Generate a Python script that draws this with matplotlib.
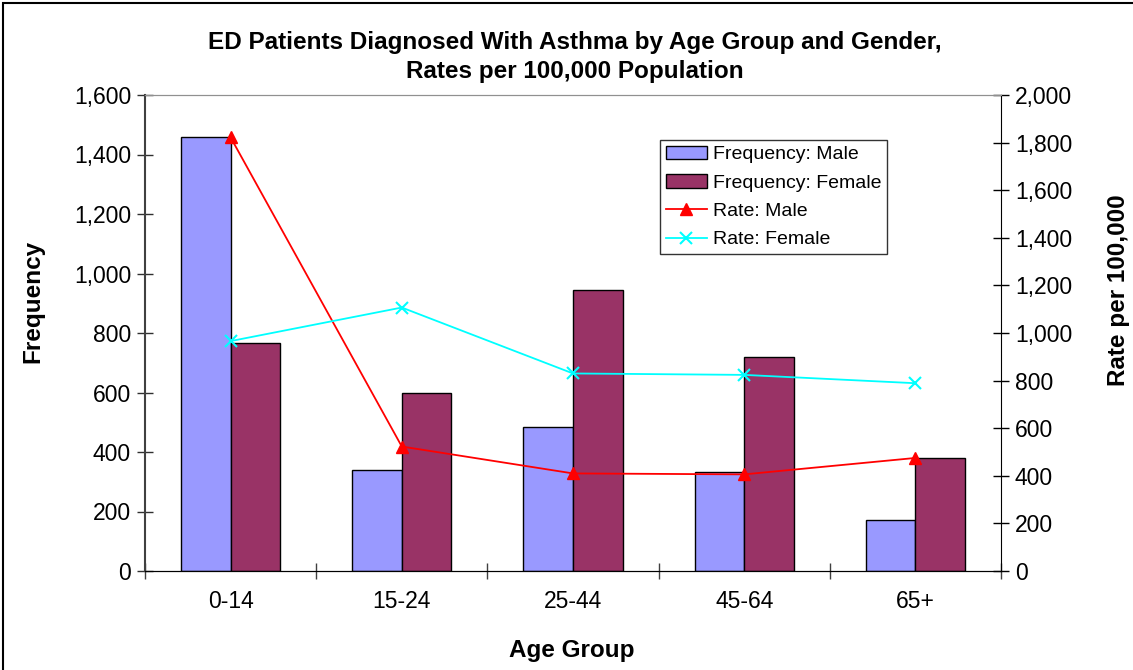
import matplotlib
matplotlib.use("Agg")
import matplotlib.pyplot as plt
import numpy as np
from matplotlib.patches import Rectangle
from matplotlib.ticker import FuncFormatter

plt.rcParams['font.family'] = ['Liberation Sans', 'DejaVu Sans']

categories = ["0-14", "15-24", "25-44", "45-64", "65+"]
freq_male = [1460, 338, 485, 333, 170]
freq_female = [765, 597, 943, 720, 380]
rate_male = [1822, 523, 410, 406, 475]
rate_female = [966, 1107, 830, 824, 789]

W, H = 1133, 670
fig = plt.figure(figsize=(W / 100, H / 100), dpi=100)
L, R, B, T = 145 / W, 1001 / W, 1 - 571 / H, 1 - 95 / H
ax = fig.add_axes([L, B, R - L, T - B])
ax2 = ax.twinx()

x = np.arange(len(categories))
bw = 0.29
ax.bar(x - bw / 2, freq_male, bw, color="#9999FF", edgecolor="black", linewidth=1.0,
       label="Frequency: Male", zorder=2)
ax.bar(x + bw / 2, freq_female, bw, color="#993366", edgecolor="black", linewidth=1.0,
       label="Frequency: Female", zorder=2)
ax2.plot(x, rate_male, color="#FF0000", marker="^", markersize=8, linewidth=1.3,
         label="Rate: Male")
ax2.plot(x, rate_female, color="#00FFFF", marker="x", markersize=8, markeredgewidth=1.5,
         linewidth=1.3, label="Rate: Female")

ax.set_xlim(-0.5, len(categories) - 0.5)
ax.set_ylim(0, 1600)
ax2.set_ylim(0, 2000)
ax.set_yticks(np.arange(0, 1601, 200))
ax2.set_yticks(np.arange(0, 2001, 200))
fmt = FuncFormatter(lambda v, p: f"{int(v):,}")
ax.yaxis.set_major_formatter(fmt)
ax2.yaxis.set_major_formatter(fmt)

ax.set_xticks(x)
ax.set_xticklabels(categories)
ax.set_xticks(np.arange(-0.5, len(categories)), minor=True)
ax.tick_params(axis="x", which="major", length=0, labelsize=16.5, pad=14)
ax.tick_params(axis="x", which="minor", length=12, direction="inout", width=1, color="#404040")
ax.tick_params(axis="y", length=12, direction="inout", width=1, labelsize=16.5, pad=4, color="#303030")
ax2.tick_params(axis="y", length=12, direction="inout", width=1, labelsize=16.5, pad=4, color="black")

ax.spines["top"].set_color("#909090")
ax2.spines["top"].set_color("#909090")
ax.spines["left"].set_color("#404040")
ax.spines["left"].set_linewidth(1.5)
ax.spines["bottom"].set_color("black")
ax2.spines["right"].set_color("black")
ax2.spines["left"].set_visible(False)
ax.spines["right"].set_visible(False)

fig.text(33 / W, 1 - 301 / H, "Frequency", rotation=90, ha="center", va="center",
         fontsize=17.5, fontweight="bold")
fig.text(1118 / W, 1 - 290 / H, "Rate per 100,000", rotation=90, ha="center", va="center",
         fontsize=17.5, fontweight="bold")
fig.text(572 / W, 1 - 650 / H, "Age Group", ha="center", va="center",
         fontsize=17.5, fontweight="bold")

fig.text(575 / W, 1 - 57 / H,
         "ED Patients Diagnosed With Asthma by Age Group and Gender,\nRates per 100,000 Population",
         ha="center", va="center", fontsize=17.5, fontweight="bold", linespacing=1.38)

h1, l1 = ax.get_legend_handles_labels()
h2, l2 = ax2.get_legend_handles_labels()
leg = ax2.legend(h1 + h2, l1 + l2, loc="upper left",
                 bbox_to_anchor=((660 - 145) / (1001 - 145), (571 - 140) / (571 - 95)),
                 fontsize=14, frameon=True, fancybox=False, edgecolor="black",
                 borderpad=0.3, labelspacing=0.55, handlelength=2.1, handletextpad=0.3,
                 borderaxespad=0)
leg.get_frame().set_linewidth(1.0)

fig.patches.append(Rectangle((3 / W, -0.1), 2, 1.1 - 3 / H, transform=fig.transFigure,
                             fill=False, edgecolor="black", linewidth=1.5))

fig.savefig("out.png", dpi=100)
